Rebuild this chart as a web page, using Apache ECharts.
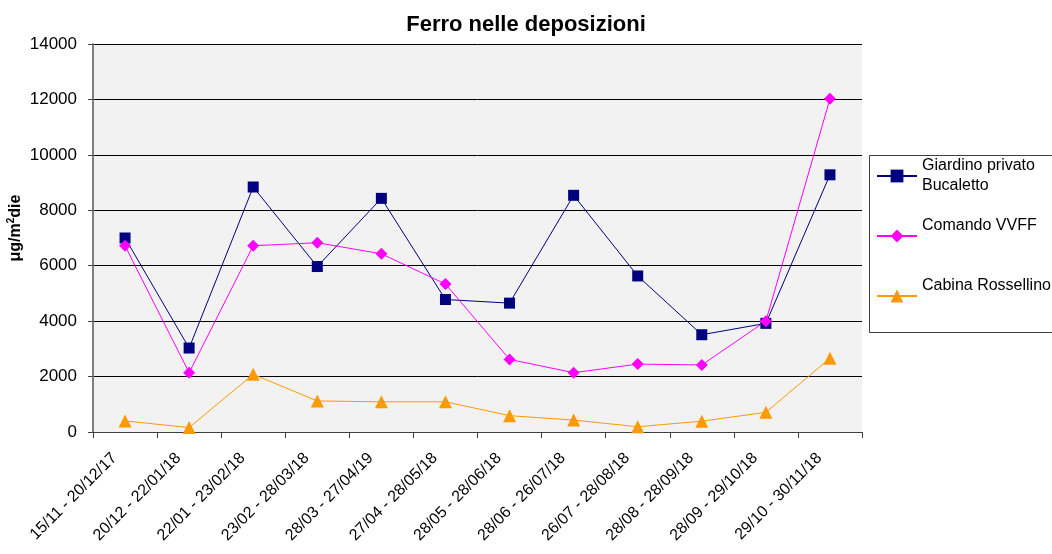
<!DOCTYPE html>
<html>
<head>
<meta charset="utf-8">
<style>
  html, body { margin: 0; padding: 0; background: #ffffff; }
  #chart { width: 1052px; height: 554px; }
</style>
<script src="https://cdn.jsdelivr.net/npm/echarts@6/dist/echarts.min.js"></script>
</head>
<body>
<div id="chart"></div>
<script>
// Sampling periods
const periods = [
  '15/11 - 20/12/17', '20/12 - 22/01/18', '22/01 - 23/02/18', '23/02 - 28/03/18',
  '28/03 - 27/04/19', '27/04 - 28/05/18', '28/05 - 28/06/18', '28/06 - 26/07/18',
  '26/07 - 28/08/18', '28/08 - 28/09/18', '28/09 - 29/10/18', '29/10 - 30/11/18'
];

// Iron deposition, µg/m² per day
const giardinoBucaletto = [7000, 3030, 8840, 5970, 8430, 4780, 4650, 8540, 5630, 3510, 3920, 9280];
const comandoVVFF       = [6720, 2140, 6720, 6830, 6430, 5340, 2620, 2140, 2450, 2420, 4000, 12020];
const cabinaRossellino  = [400, 160, 2080, 1120, 1090, 1090, 590, 430, 190, 390, 710, 2660];

const seriesNames = ['Giardino privato Bucaletto', 'Comando VVFF', 'Cabina Rossellino'];
const legendLabels = {
  'Giardino privato Bucaletto': 'Giardino privato\nBucaletto',
  'Comando VVFF': 'Comando VVFF\n ',
  'Cabina Rossellino': 'Cabina Rossellino\n '
};

const font = 'Liberation Sans, Arial, sans-serif';
const chart = echarts.init(document.getElementById('chart'), null, { renderer: 'canvas' });

function lineSeries(name, data, color, symbol, size) {
  return {
    name: name,
    type: 'line',
    data: data,
    symbol: symbol,
    symbolSize: size,
    showAllSymbol: true,
    lineStyle: { color: color, width: 1 },
    itemStyle: { color: color, borderWidth: 0 },
    emphasis: { disabled: true },
    animation: false
  };
}

chart.setOption({
  animation: false,
  backgroundColor: '#ffffff',
  title: {
    text: 'Ferro nelle deposizioni',
    left: 521,
    top: 9,
    textAlign: 'center',
    textStyle: { fontFamily: font, fontSize: 22, fontWeight: 'bold', color: '#000' }
  },
  grid: {
    left: 93, right: 190, top: 44, bottom: 122,
    containLabel: false,
    outerBoundsMode: 'none',
    show: true, backgroundColor: '#F2F2F2', borderWidth: 0
  },
  graphic: [{
    type: 'rect',
    z: 1,
    shape: { x: 869.5, y: 155.5, width: 200, height: 177 },
    style: { fill: '#ffffff', stroke: '#404040', lineWidth: 1 }
  }],
  legend: {
    orient: 'vertical',
    left: 876,
    top: 146,
    padding: 0,
    itemGap: 0,
    itemWidth: 40,
    itemHeight: 16,
    z: 5,
    data: seriesNames,
    formatter: function (name) { return legendLabels[name]; },
    textStyle: {
      fontFamily: font, fontSize: 16, color: '#000',
      lineHeight: 20, padding: [20, 0, 0, 0]
    }
  },
  xAxis: {
    type: 'category',
    data: periods,
    boundaryGap: true,
    axisLine: { lineStyle: { color: '#404040', width: 1 } },
    axisTick: { show: true, length: 6, lineStyle: { color: '#404040' } },
    axisLabel: {
      rotate: 45, interval: 0, margin: 13,
      padding: [0, 15, 0, 0],
      fontFamily: font, fontSize: 16, color: '#000'
    },
    splitLine: { show: false }
  },
  yAxis: {
    type: 'value',
    min: 0, max: 14000, interval: 2000,
    name: 'μg/m{sup|2}die',
    nameLocation: 'middle',
    nameGap: 68,
    nameMoveOverlap: false,
    nameRotate: 90,
    nameTextStyle: {
      fontFamily: font, fontSize: 16, fontWeight: 'bold', color: '#000',
      padding: [0, 0, 0, 20],
      rich: { sup: { fontFamily: font, fontSize: 10, fontWeight: 'bold', verticalAlign: 'top', padding: [0, 0, 9, 0] } }
    },
    axisLine: { show: true, lineStyle: { color: '#808080', width: 2 } },
    axisTick: { show: true, length: 5, lineStyle: { color: '#404040' } },
    axisLabel: {
      margin: 16, fontFamily: font, fontSize: 17, color: '#000',
      formatter: function (v) { return String(v); }
    },
    splitLine: { show: true, lineStyle: { color: '#000000', width: 1 } }
  },
  series: [
    lineSeries(seriesNames[0], giardinoBucaletto, '#000080', 'rect', 11),
    lineSeries(seriesNames[1], comandoVVFF, '#FF00FF', 'diamond', 12),
    lineSeries(seriesNames[2], cabinaRossellino, '#FF9900', 'triangle', 13)
  ]
});
</script>
</body>
</html>
